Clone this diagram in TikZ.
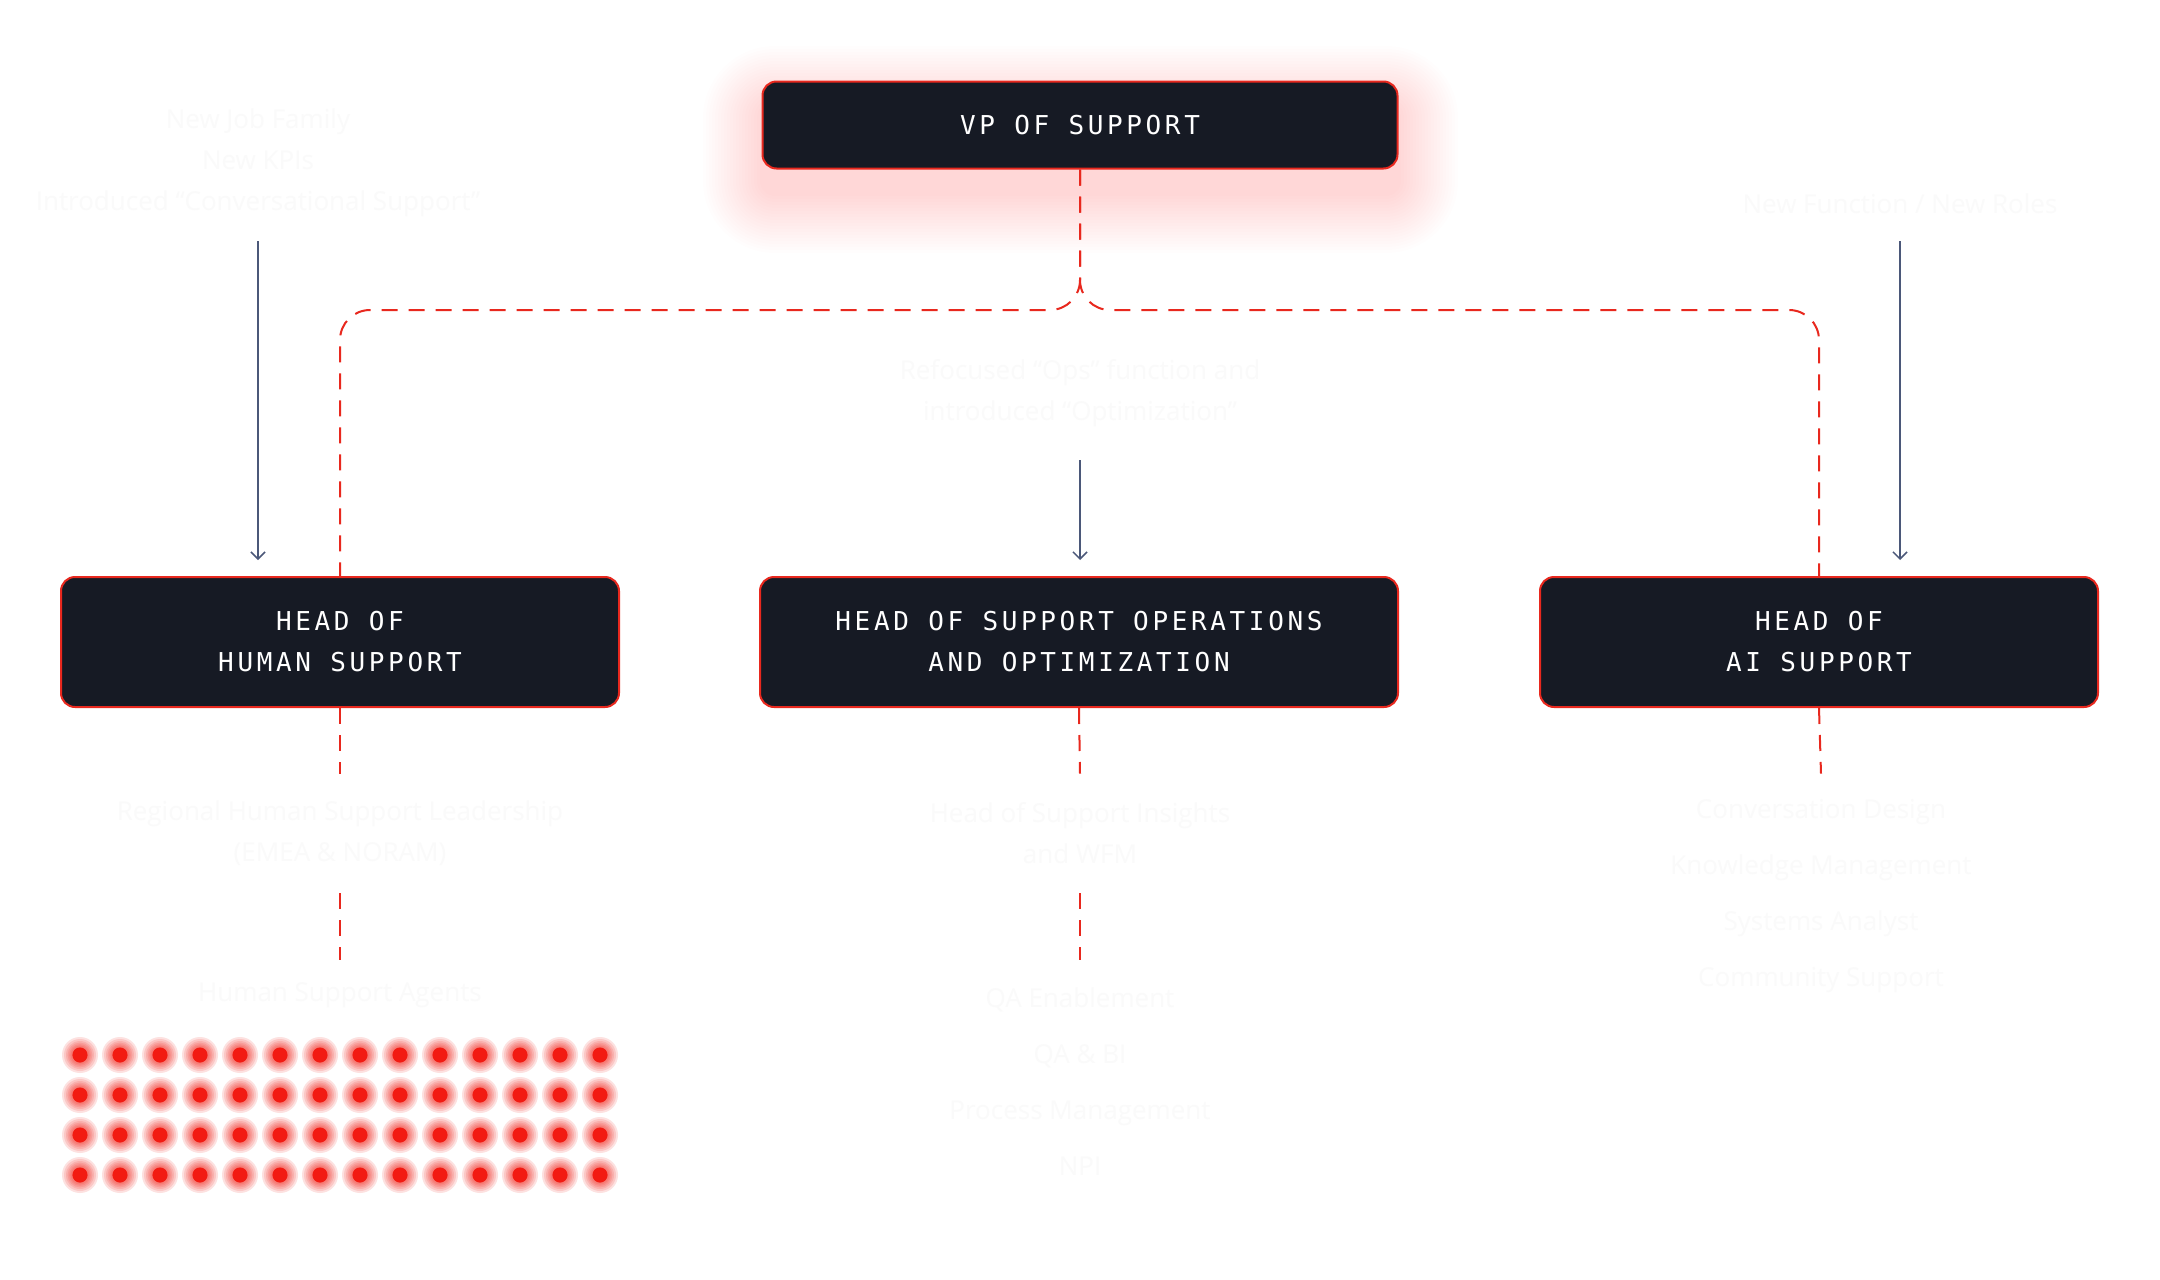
\documentclass[tikz,border=0pt]{standalone}
\usepackage{fontspec}
\setmainfont{Open Sans}
\newfontfamily\boxfont{DejaVu Sans Mono}[LetterSpace=14]
\usetikzlibrary{arrows.meta}
\definecolor{boxbg}{HTML}{161A24}
\definecolor{boxred}{HTML}{E8281E}
\definecolor{slate}{HTML}{4B5879}
\definecolor{faint}{HTML}{FAFAFA}
\definecolor{dotred}{HTML}{F21B12}
\begin{document}
\begin{tikzpicture}[x=0.5pt,y=-0.5pt,
  role/.style={draw=boxred, line width=1pt, fill=boxbg, rounded corners=7pt, text=white,
    font=\boxfont\fontsize{13}{20.5}\selectfont, align=center, inner sep=0pt},
  note/.style={text=faint, font=\fontsize{13}{20.5}\selectfont, align=center, inner sep=0pt},
  notelist/.style={text=faint, font=\fontsize{13}{28}\selectfont, align=center, inner sep=0pt},
  link/.style={draw=boxred, line width=1pt, dash pattern=on 8pt off 5.5pt},
  arr/.style={draw=slate, line width=0.75pt, -{Straight Barb[length=3.5pt,width=7pt]}},
]
\useasboundingbox[fill=white] (0,0) rectangle (2160,1280);

% glow behind VP box
\foreach \i in {1,...,20}{
  \fill[red, opacity=0.006, rounded corners=\i*1.5pt+6pt]
    (763-\i*3, 106-\i*3) rectangle (1398+\i*3, 193+\i*3);
}

% role boxes
\node[role, minimum width=317.5pt, minimum height=43.5pt] (vp) at (1080,125) {VP OF SUPPORT};
\node[role, minimum width=279pt, minimum height=65pt] (h1) at (340,642) {HEAD OF\\HUMAN SUPPORT};
\node[role, minimum width=319pt, minimum height=65pt] (h2) at (1079,642) {HEAD OF SUPPORT OPERATIONS\\AND OPTIMIZATION};
\node[role, minimum width=279pt, minimum height=65pt] (h3) at (1819,642) {HEAD OF\\AI SUPPORT};

% reporting lines
\coordinate (bus) at (1080,310);
\draw[link, rounded corners=15pt] (vp.south) -- (bus) -| (h1.north);
\draw[link, rounded corners=15pt] (vp.south) -- (bus) -| (h3.north);

% top notes and arrows
\node[note, minimum height=78.5pt] (jobfam) at (258,162.5)
  {New Job Family\\New KPIs\\Introduced “Conversational Support”};
\node[note, minimum height=37pt] (newfn) at (1900,204) {New Function / New Roles};
\node[note, minimum height=67pt] (refoc) at (1080,393)
  {Refocused “Ops” function and\\introduced “Optimization”};
\draw[arr, shorten >=8pt] (jobfam.south) -- (jobfam.south |- h1.north);
\draw[arr, shorten >=8pt] (newfn.south) -- (newfn.south |- h3.north);
\draw[arr, shorten >=8pt] (refoc.south) -- (refoc.south |- h2.north);

% lower notes
\node[note, minimum height=59.5pt] (reg) at (340,833.5)
  {Regional Human Support Leadership\\(EMEA \& NORAM)};
\node[note, minimum height=35pt] (agents) at (340,995) {Human Support Agents};
\node[note, minimum height=59.5pt] (ins) at (1080,833.5)
  {Head of Support Insights\\and WFM};
\node[notelist, minimum height=121.5pt] (ops) at (1080,1081.5)
  {QA Enablement\\QA \& BI\\Process Management\\NPI};
\node[notelist, minimum height=122pt] (ai) at (1821,896)
  {Conversation Design\\Knowledge Management\\Systems Analyst\\Community Support};

\draw[link] (h1.south) -- (reg.north);
\draw[link] (reg.south) -- (agents.north);
\draw[link] (h2.south) -- (ins.north);
\draw[link] (ins.south) -- (ops.north);
\draw[link] (h3.south) -- (ai.north);

% agent dots
\foreach \c in {0,...,13}{
  \foreach \r in {0,...,3}{
    \foreach \rad in {9,8,7,6.2,5.4,4.7}{
      \fill[dotred, opacity=0.13] (80+\c*40, 1055+\r*40) circle[radius=\rad pt];
    }
    \fill[dotred] (80+\c*40, 1055+\r*40) circle[radius=3.8pt];
  }
}
\end{tikzpicture}
\end{document}
